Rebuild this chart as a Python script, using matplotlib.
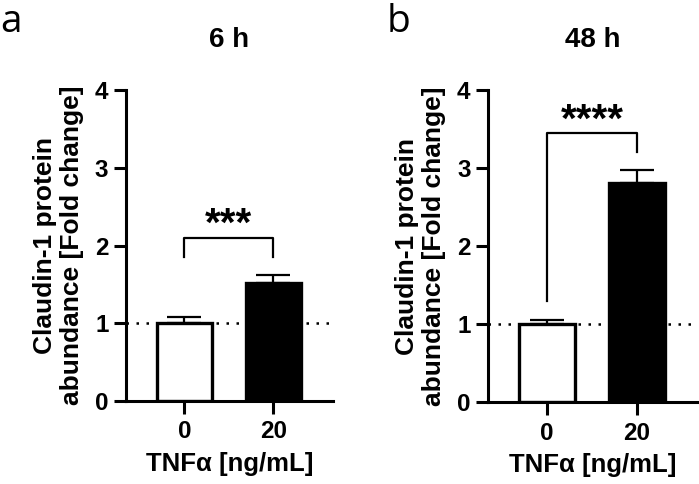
import matplotlib
matplotlib.use("Agg")
import matplotlib.pyplot as plt

plt.rcParams['font.family'] = ['Liberation Sans', 'DejaVu Sans']

categories = ["0", "20"]
titles = ["6 h", "48 h"]
panel_letters = ["a", "b"]
means_6h = [1.0, 1.52]
err_6h = [0.08, 0.10]
means_48h = [1.0, 2.81]
err_48h = [0.05, 0.16]
stars = ["***", "****"]
# bracket: top y, left leg bottom, right leg bottom
brackets = [(2.10, 1.85, 1.85), (3.45, 1.30, 3.20)]
star_y = [2.12, 3.47]
yticks = [0, 1, 2, 3, 4]

fig = plt.figure(figsize=(6.99, 4.84), dpi=100)
axes_rects = [[0.180, 0.1715, 0.296, 0.6425], [0.698, 0.169, 0.299, 0.645]]
letter_pos = [(0.0, 0.934), (0.553, 0.934)]
data = [(means_6h, err_6h), (means_48h, err_48h)]

for i in range(2):
    ax = fig.add_axes(axes_rects[i])
    means, errs = data[i]
    x = list(range(len(categories)))
    ax.axhline(1.0, color='black', linestyle=(0, (1, 3)), linewidth=1.8, zorder=1)
    ax.bar(x, means, width=0.62, color=['white', 'black'], edgecolor='black',
           linewidth=2.4, zorder=2)
    ax.errorbar(x, means, yerr=[[0, 0], errs], fmt='none', ecolor='black',
                elinewidth=1.6, capsize=12, capthick=1.6, zorder=3)
    ax.set_xlim(-0.66, 1.67)
    ax.set_ylim(0, 4)
    ax.set_yticks(yticks)
    ax.set_xticks(x)
    ax.set_xticklabels(categories)
    for s in ['top', 'right']:
        ax.spines[s].set_visible(False)
    for s in ['left', 'bottom']:
        ax.spines[s].set_linewidth(2.2)
    ax.tick_params(axis='both', width=2.2, length=9, labelsize=17.5)
    ax.tick_params(axis='x', pad=5)
    for lab in ax.get_xticklabels() + ax.get_yticklabels():
        lab.set_fontweight('bold')
    ax.set_xlabel("TNFα [ng/mL]", fontsize=18.5, fontweight='bold', labelpad=6)
    ax.set_ylabel("Claudin-1 protein\nabundance [Fold change]", fontsize=19,
                  fontweight='bold', labelpad=8, linespacing=1.15)
    ax.set_title(titles[i], fontsize=20, fontweight='bold', pad=31)
    top, lb, rb = brackets[i]
    ax.plot([0, 0, 1, 1], [lb, top, top, rb], color='black', linewidth=1.6,
            clip_on=False)
    ax.text(0.5, star_y[i], stars[i], ha='center', va='baseline', fontsize=29,
            fontweight='bold')
    fig.text(letter_pos[i][0], letter_pos[i][1], panel_letters[i], fontsize=28,
             family='Open Sans')

fig.savefig("out.png", dpi=100)
